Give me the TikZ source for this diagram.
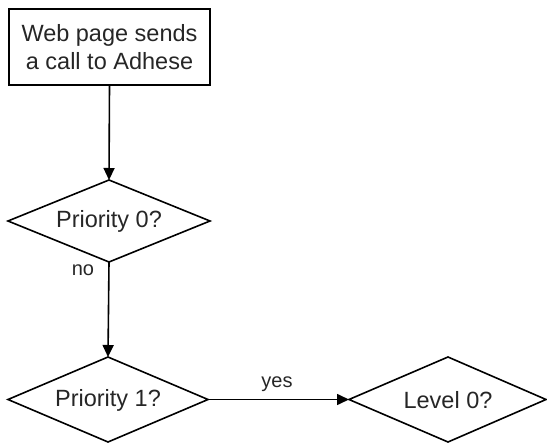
\documentclass[tikz,border=0pt]{standalone}
\usepackage{fontspec}
\setmainfont{Liberation Sans}
\usetikzlibrary{arrows.meta}
\begin{document}
\begin{tikzpicture}[x=1pt,y=-1pt,
  every node/.style={text=black!85},
  boxnode/.style={draw=black,line width=1.6pt,minimum width=201pt,minimum height=76pt,inner sep=0pt,align=center,font=\fontsize{23.5}{28}\selectfont},
  shapeline/.style={draw=black,line width=1.6pt},
  dtext/.style={font=\fontsize{23.5}{28}\selectfont,inner sep=0pt},
  conn/.style={draw=black,line width=1.6pt,-{Triangle[length=12pt,width=11pt]}},
  lbl/.style={font=\fontsize{20}{24}\selectfont,inner sep=0pt}]
\useasboundingbox (0,0) rectangle (547,444);
\node[boxnode] (start) at (109.5,47) {Web page sends\\a call to Adhese};
\path[shapeline] (8,221) -- (109,180) -- (210,221) -- (109,262) -- cycle;
\node[dtext] (p0) at (109,221) {Priority 0?};
\coordinate (p0top) at (109,180);
\coordinate (p0bot) at (109,262);
\path[shapeline] (8,399.5) -- (108,357) -- (208,399.5) -- (108,442) -- cycle;
\node[dtext] (p1) at (108,400) {Priority 1?};
\coordinate (p1top) at (108,357);
\coordinate (p1right) at (208,399.5);
\path[shapeline] (349,399.5) -- (448,357) -- (546,399.5) -- (448,442) -- cycle;
\node[dtext] (l0) at (448,400) {Level 0?};
\coordinate (l0left) at (349,399.5);
\draw[conn] (start.south) -- (p0top);
\draw[conn] (p0bot) -- (p1top);
\draw[conn] (p1right) -- (l0left);
\node[lbl] (no) at (83,270) {no};
\node[lbl] (yes) at (277,384) {yes};
\end{tikzpicture}
\end{document}
